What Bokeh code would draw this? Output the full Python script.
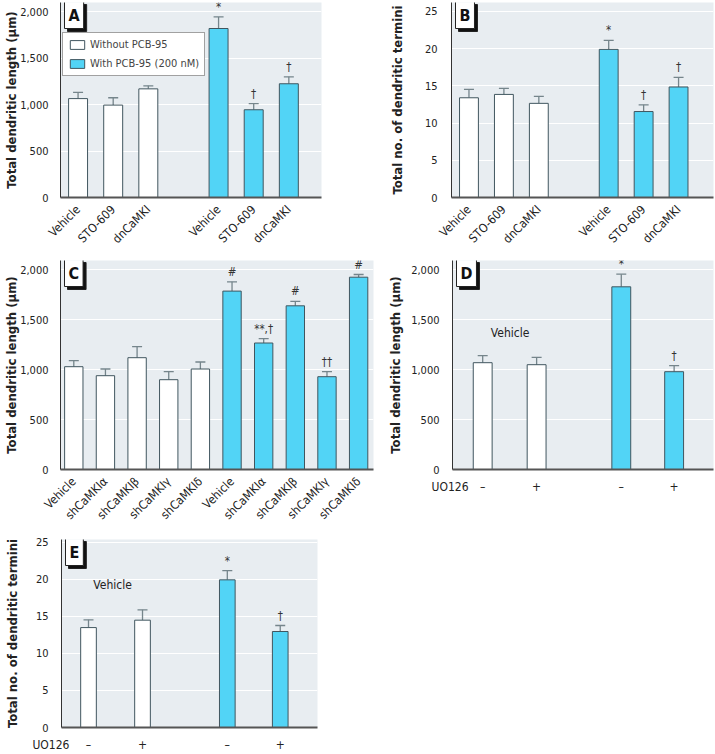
import math
from bokeh.plotting import figure
from bokeh.models import (ColumnDataSource, Whisker, TeeHead, Label, Legend, LegendItem,
                          FixedTicker, NumeralTickFormatter, Range1d)
from bokeh.layouts import column, row
from bokeh.embed import file_html
from bokeh.resources import INLINE
from bokeh.core.properties import value

FONT = "DejaVu Sans Condensed"
BG = "#e8edf1"
BLUE = "#52d4f6"
WHITE = "#ffffff"
OUTLINE = "#40565f"
ERRC = "#75858b"

# ---------------- data ----------------
a_pos = [0, 1, 2, 4, 5, 6]
a_labels = ["Vehicle", "STO-609", "dnCaMKI", "Vehicle", "STO-609", "dnCaMKI"]
a_group = ["without", "without", "without", "with", "with", "with"]
a_mean = [1065, 995, 1170, 1820, 945, 1225]
a_err = [68, 79, 33, 125, 65, 75]
a_marks = ["", "", "", "*", "†", "†"]

b_mean = [13.4, 13.85, 12.65, 19.9, 11.55, 14.85]
b_err = [1.12, 0.81, 0.94, 1.21, 0.9, 1.3]
b_marks = ["", "", "", "*", "†", "†"]

c_pos = [0, 1, 2, 3, 4, 5, 6, 7, 8, 9]
c_labels = ["Vehicle", "shCaMKIα", "shCaMKIβ", "shCaMKIγ", "shCaMKIδ",
            "Vehicle", "shCaMKIα", "shCaMKIβ", "shCaMKIγ", "shCaMKIδ"]
c_group = ["without"] * 5 + ["with"] * 5
c_mean = [1028, 938, 1118, 898, 1005, 1784, 1265, 1637, 928, 1923]
c_err = [60, 67, 110, 80, 70, 93, 43, 44, 50, 27]
c_marks = ["", "", "", "", "", "#", "**,†", "#", "††", "#"]

d_pos = [0, 1, 2.57, 3.55]
d_labels = ["–", "+", "–", "+"]
d_group = ["without", "without", "with", "with"]
d_mean = [1068, 1048, 1827, 978]
d_err = [70, 73, 126, 60]
d_marks = ["", "", "*", "†"]

e_mean = [13.5, 14.5, 19.95, 12.97]
e_err = [1.05, 1.4, 1.25, 0.81]
e_marks = ["", "", "*", "†"]

treat_label = "UO126"
len_ticks = [0, 500, 1000, 1500, 2000]
num_ticks = [0, 5, 10, 15, 20, 25]


def panel(width, height, bl, br, bt, bb, xr, yr, pos, labels, groups, mean, err, marks,
          bar_w, ylabel, yticks, letter, rotate, tick_standoff, label_standoff,
          extra_tick=None):
    p = figure(width=width, height=height, x_range=Range1d(*xr), y_range=Range1d(*yr),
               output_backend="svg", toolbar_location=None,
               min_border_left=bl, min_border_right=br, min_border_top=bt, min_border_bottom=bb)
    p.background_fill_color = BG
    p.border_fill_color = "white"
    p.outline_line_color = None
    rends = {}
    for g, col in (("without", WHITE), ("with", BLUE)):
        idx = [i for i, gg in enumerate(groups) if gg == g]
        src = ColumnDataSource(dict(x=[pos[i] for i in idx], top=[mean[i] for i in idx]))
        rends[g] = p.vbar(x="x", top="top", width=bar_w, fill_color=col,
                          line_color=OUTLINE, line_width=1, source=src)
    esrc = ColumnDataSource(dict(x=pos, top=mean, upper=[m + e for m, e in zip(mean, err)], mark=marks))
    p.add_layout(Whisker(base="x", lower="top", upper="upper", source=esrc, line_color=ERRC,
                         line_width=1.3, lower_head=None,
                         upper_head=TeeHead(size=10, line_color=ERRC, line_width=1.3)))
    p.text(x="x", y="upper", text="mark", source=esrc, text_align="center",
           text_baseline="bottom", y_offset=-3, text_font=value(FONT),
           text_font_size="11.5px", text_color="#333333")
    # axes
    ticks = list(pos)
    overrides = {x: l for x, l in zip(pos, labels)}
    if extra_tick is not None:
        ticks = [extra_tick[0]] + ticks
        overrides[extra_tick[0]] = extra_tick[1]
    p.xaxis.ticker = FixedTicker(ticks=ticks)
    p.xaxis.major_label_overrides = overrides
    p.xaxis.major_tick_line_color = None
    p.xaxis.minor_tick_line_color = None
    p.xaxis.axis_line_color = "#555555"
    p.xaxis.axis_line_width = 2
    p.xaxis.major_label_text_font = FONT
    p.xaxis.major_label_text_font_size = "12px"
    p.xaxis.major_label_text_color = "#222222"
    if rotate:
        p.xaxis.major_label_orientation = math.pi / 4
    p.xaxis.major_label_standoff = 4
    p.yaxis.ticker = FixedTicker(ticks=yticks)
    p.yaxis.formatter = NumeralTickFormatter(format="0,0")
    p.yaxis.major_tick_line_color = None
    p.yaxis.minor_tick_line_color = None
    p.yaxis.axis_line_color = "#333333"
    p.yaxis.axis_line_width = 1
    p.yaxis.major_label_text_font = FONT
    p.yaxis.major_label_text_font_size = "11px"
    p.yaxis.major_label_text_color = "#222222"
    p.yaxis.major_label_standoff = tick_standoff
    p.yaxis.axis_label = ylabel
    p.yaxis.axis_label_text_font = FONT
    p.yaxis.axis_label_text_font_style = "bold"
    p.yaxis.axis_label_text_font_size = "13px"
    p.yaxis.axis_label_text_color = "#222222"
    p.yaxis.axis_label_standoff = label_standoff
    p.xgrid.visible = False
    p.ygrid.grid_line_color = "white"
    p.ygrid.grid_line_width = 1.2
    # panel letter with shadow
    for dx, dy, fc, tc in ((3, -3, "#111111", "#111111"), (0, 0, "white", "#111111")):
        p.add_layout(Label(x=xr[0], y=yr[1], x_offset=4 + dx, y_offset=1 + dy, text=letter,
                           text_baseline="top",
                           text_font=FONT, text_font_style="bold", text_font_size="16px",
                           text_color=tc, background_fill_color=fc,
                           border_line_color="#222222", padding=4))
    return p, rends


# row 1 (0-255)
pa, ra = panel(340, 255, 60, 19, 2, 58, (-0.5, 6.93), (0, 2100), a_pos, a_labels, a_group,
               a_mean, a_err, a_marks, 0.54, "Total dendritic length (µm)", len_ticks, "A", True, 6, -2)
legend = Legend(items=[LegendItem(label="Without PCB-95", renderers=[ra["without"]]),
                       LegendItem(label="With PCB-95 (200 nM)", renderers=[ra["with"]])],
                location=(2, 121), border_line_color="#444444", background_fill_color="white",
                background_fill_alpha=1.0, padding=5, spacing=6, margin=0,
                glyph_width=18, glyph_height=11, label_standoff=4,
                label_text_font=FONT, label_text_font_size="11px", label_height=12)
pa.add_layout(legend)

pb, _ = panel(375, 255, 111, 2, 2, 58, (-0.5, 7.0), (0, 26.2), a_pos, a_labels, a_group,
              b_mean, b_err, b_marks, 0.54, "Total no. of dendritic termini", num_ticks, "B", True, 8, 17)

# row 2 (255-533)
pc, _ = panel(380, 278, 60, 7, 5, 64, (-0.42, 9.47), (0, 2090), c_pos, c_labels, c_group,
              c_mean, c_err, c_marks, 0.58, "Total dendritic length (µm)", len_ticks, "C", True, 6, -2)

pd, _ = panel(335, 278, 72, 2, 5, 64, (-0.56, 4.28), (0, 2090), d_pos, d_labels, d_group,
              d_mean, d_err, d_marks, 0.35, "Total dendritic length (µm)", len_ticks, "D", False, 7, 5,
              extra_tick=(-0.555, treat_label + "\u2002"))
pd.add_layout(Label(x=0.15, y=1370, text="Vehicle", text_font=FONT, text_font_size="12px",
                    text_baseline="middle", text_color="#222222"))

# row 3 (533-754)
pe, _ = panel(340, 221, 61, 23, 6, 27, (-0.5, 4.24), (0, 25.4), d_pos, d_labels, d_group,
              e_mean, e_err, e_marks, 0.29, "Total no. of dendritic termini", num_ticks, "E", False, 7, 13,
              extra_tick=(-0.495, treat_label + "\u2002\u2002\u2002\u2002"))
pe.add_layout(Label(x=0.09, y=19.3, text="Vehicle", text_font=FONT, text_font_size="12px",
                    text_baseline="middle", text_color="#222222"))

layout = column(row(pa, pb), row(pc, pd), row(pe))
open("out.html", "w").write(file_html(layout, INLINE))
